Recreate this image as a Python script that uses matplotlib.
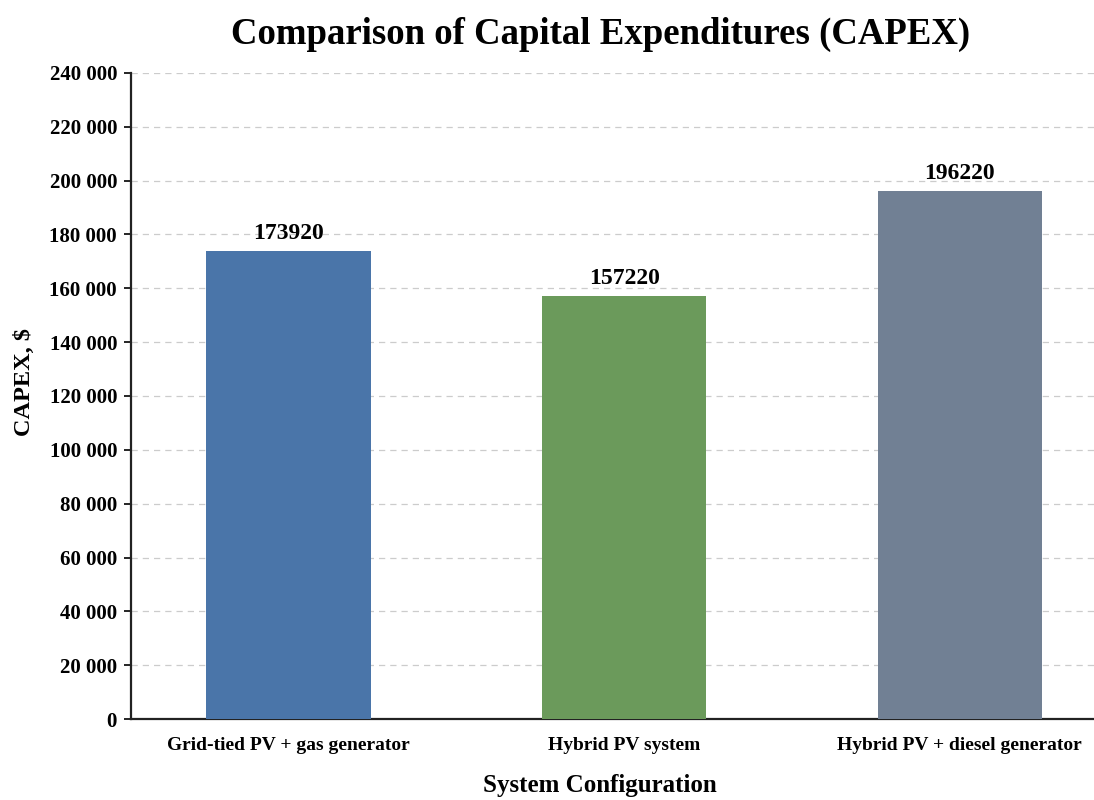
import matplotlib
matplotlib.use("Agg")
import matplotlib.pyplot as plt
from matplotlib.ticker import FuncFormatter

categories = ["Grid-tied PV + gas generator", "Hybrid PV system", "Hybrid PV + diesel generator"]
capex = [173920, 157220, 196220]
colors = ["#4a75a9", "#6b9a5b", "#718094"]
yticks = list(range(0, 240001, 20000))

plt.rcParams['font.family'] = ['Liberation Serif', 'DejaVu Serif']
plt.rcParams['font.weight'] = 'bold'

fig = plt.figure(figsize=(10.94, 8), dpi=100)
ax = fig.add_axes([0.1197, 0.101, 0.8803, 0.808])

x = list(range(len(categories)))
bars = ax.bar(x, capex, width=0.49, color=colors, zorder=3)
for xi, v in zip(x, capex):
    ax.text(xi, v + 2500, f"{v}", ha='center', va='bottom', fontsize=17, fontweight='bold', zorder=4)

ax.set_ylim(0, 240000)
ax.set_xlim(-0.47, 2.4)
ax.set_yticks(yticks)
ax.yaxis.set_major_formatter(FuncFormatter(lambda v, p: f"{int(v):,}".replace(",", " ")))
ax.set_xticks(x)
ax.set_xticklabels(categories)
ax.tick_params(axis='x', length=0, pad=13, labelsize=14)
ax.tick_params(axis='y', length=5, width=1.2, labelsize=15, pad=5)
for lab in ax.get_xticklabels() + ax.get_yticklabels():
    lab.set_fontweight('bold')

ax.yaxis.grid(True, linestyle=(0, (5, 4)), color='#cccccc', linewidth=0.9, zorder=0)
ax.set_axisbelow(True)
for s in ['top', 'right']:
    ax.spines[s].set_visible(False)
for s in ['left', 'bottom']:
    ax.spines[s].set_linewidth(1.6)
    ax.spines[s].set_color('#222222')

ax.set_ylabel("CAPEX, $", fontsize=17.5, fontweight='bold')
ax.yaxis.set_label_coords(-0.0995, 0.522)
ax.set_xlabel("System Configuration", fontsize=18, fontweight='bold')
ax.xaxis.set_label_coords(0.487, -0.085)
fig.text(0.549, 0.957, "Comparison of Capital Expenditures (CAPEX)", fontsize=26.5,
         fontweight='bold', ha='center', va='center')

fig.savefig("out.png", dpi=100)
